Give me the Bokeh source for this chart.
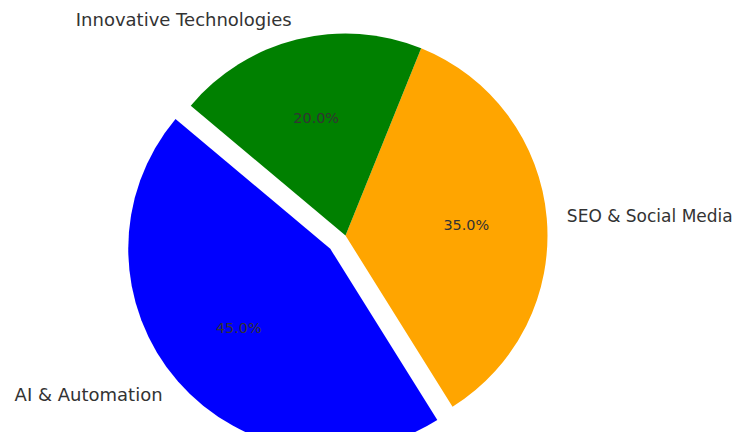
import math
from bokeh.plotting import figure
from bokeh.models import Range1d, ColumnDataSource
from bokeh.core.properties import value
from bokeh.embed import file_html
from bokeh.resources import INLINE

labels = ["AI & Automation", "SEO & Social Media", "Innovative Technologies"]
values = [45, 35, 20]
colors = ["#0000ff", "#ffa500", "#008000"]
explode = [0.1, 0.0, 0.0]
start_deg = 140.0

total = float(sum(values))
starts, ends, xs, ys = [], [], [], []
lx, ly, align, px, py, pct = [], [], [], [], [], []
a = math.radians(start_deg)
for v, e in zip(values, explode):
    span = 2 * math.pi * v / total
    s, t = a, a + span
    mid = (s + t) / 2
    cx, cy = e * math.cos(mid), e * math.sin(mid)
    starts.append(s); ends.append(t); xs.append(cx); ys.append(cy)
    lx.append(cx + 1.1 * math.cos(mid)); ly.append(cy + 1.1 * math.sin(mid))
    align.append("left" if math.cos(mid) > 0 else "right")
    px.append(cx + 0.6 * math.cos(mid)); py.append(cy + 0.6 * math.sin(mid))
    pct.append(f"{100 * v / total:.1f}%")
    a = t

W, H = 735, 432
scale = 202.0
cxp, cyp = 345, 235  # pie centre in figure pixels
x0 = -cxp / scale
x1 = (W - cxp) / scale
y1 = cyp / scale
y0 = -(H - cyp) / scale

p = figure(width=W, height=H, output_backend="svg", toolbar_location=None,
           x_range=Range1d(x0, x1), y_range=Range1d(y0, y1), min_border=0)
p.axis.visible = False
p.grid.visible = False
p.outline_line_color = None
p.background_fill_color = "white"
p.border_fill_color = "white"

src = ColumnDataSource(dict(x=xs, y=ys, s=starts, e=ends, c=colors))
p.wedge(x="x", y="y", radius=1.0, start_angle="s", end_angle="e",
        direction="anticlock", fill_color="c", line_color=None, source=src)

# right-hand label is kept slightly smaller so it fits inside the page
label_sizes = ["18px" if al == "right" else "17px" for al in align]
lsrc = ColumnDataSource(dict(x=lx, y=ly, t=labels, a=align, fs=label_sizes))
p.text(x="x", y="y", text="t", text_align="a", text_baseline="middle",
       text_font=value("DejaVu Sans"), text_font_size="fs",
       text_color="#333333", source=lsrc)

psrc = ColumnDataSource(dict(x=px, y=py, t=pct))
p.text(x="x", y="y", text="t", text_align="center", text_baseline="middle",
       text_font=value("DejaVu Sans"), text_font_size="14.4px",
       text_color="#333333", source=psrc)

open("out.html", "w").write(file_html(p, INLINE))
